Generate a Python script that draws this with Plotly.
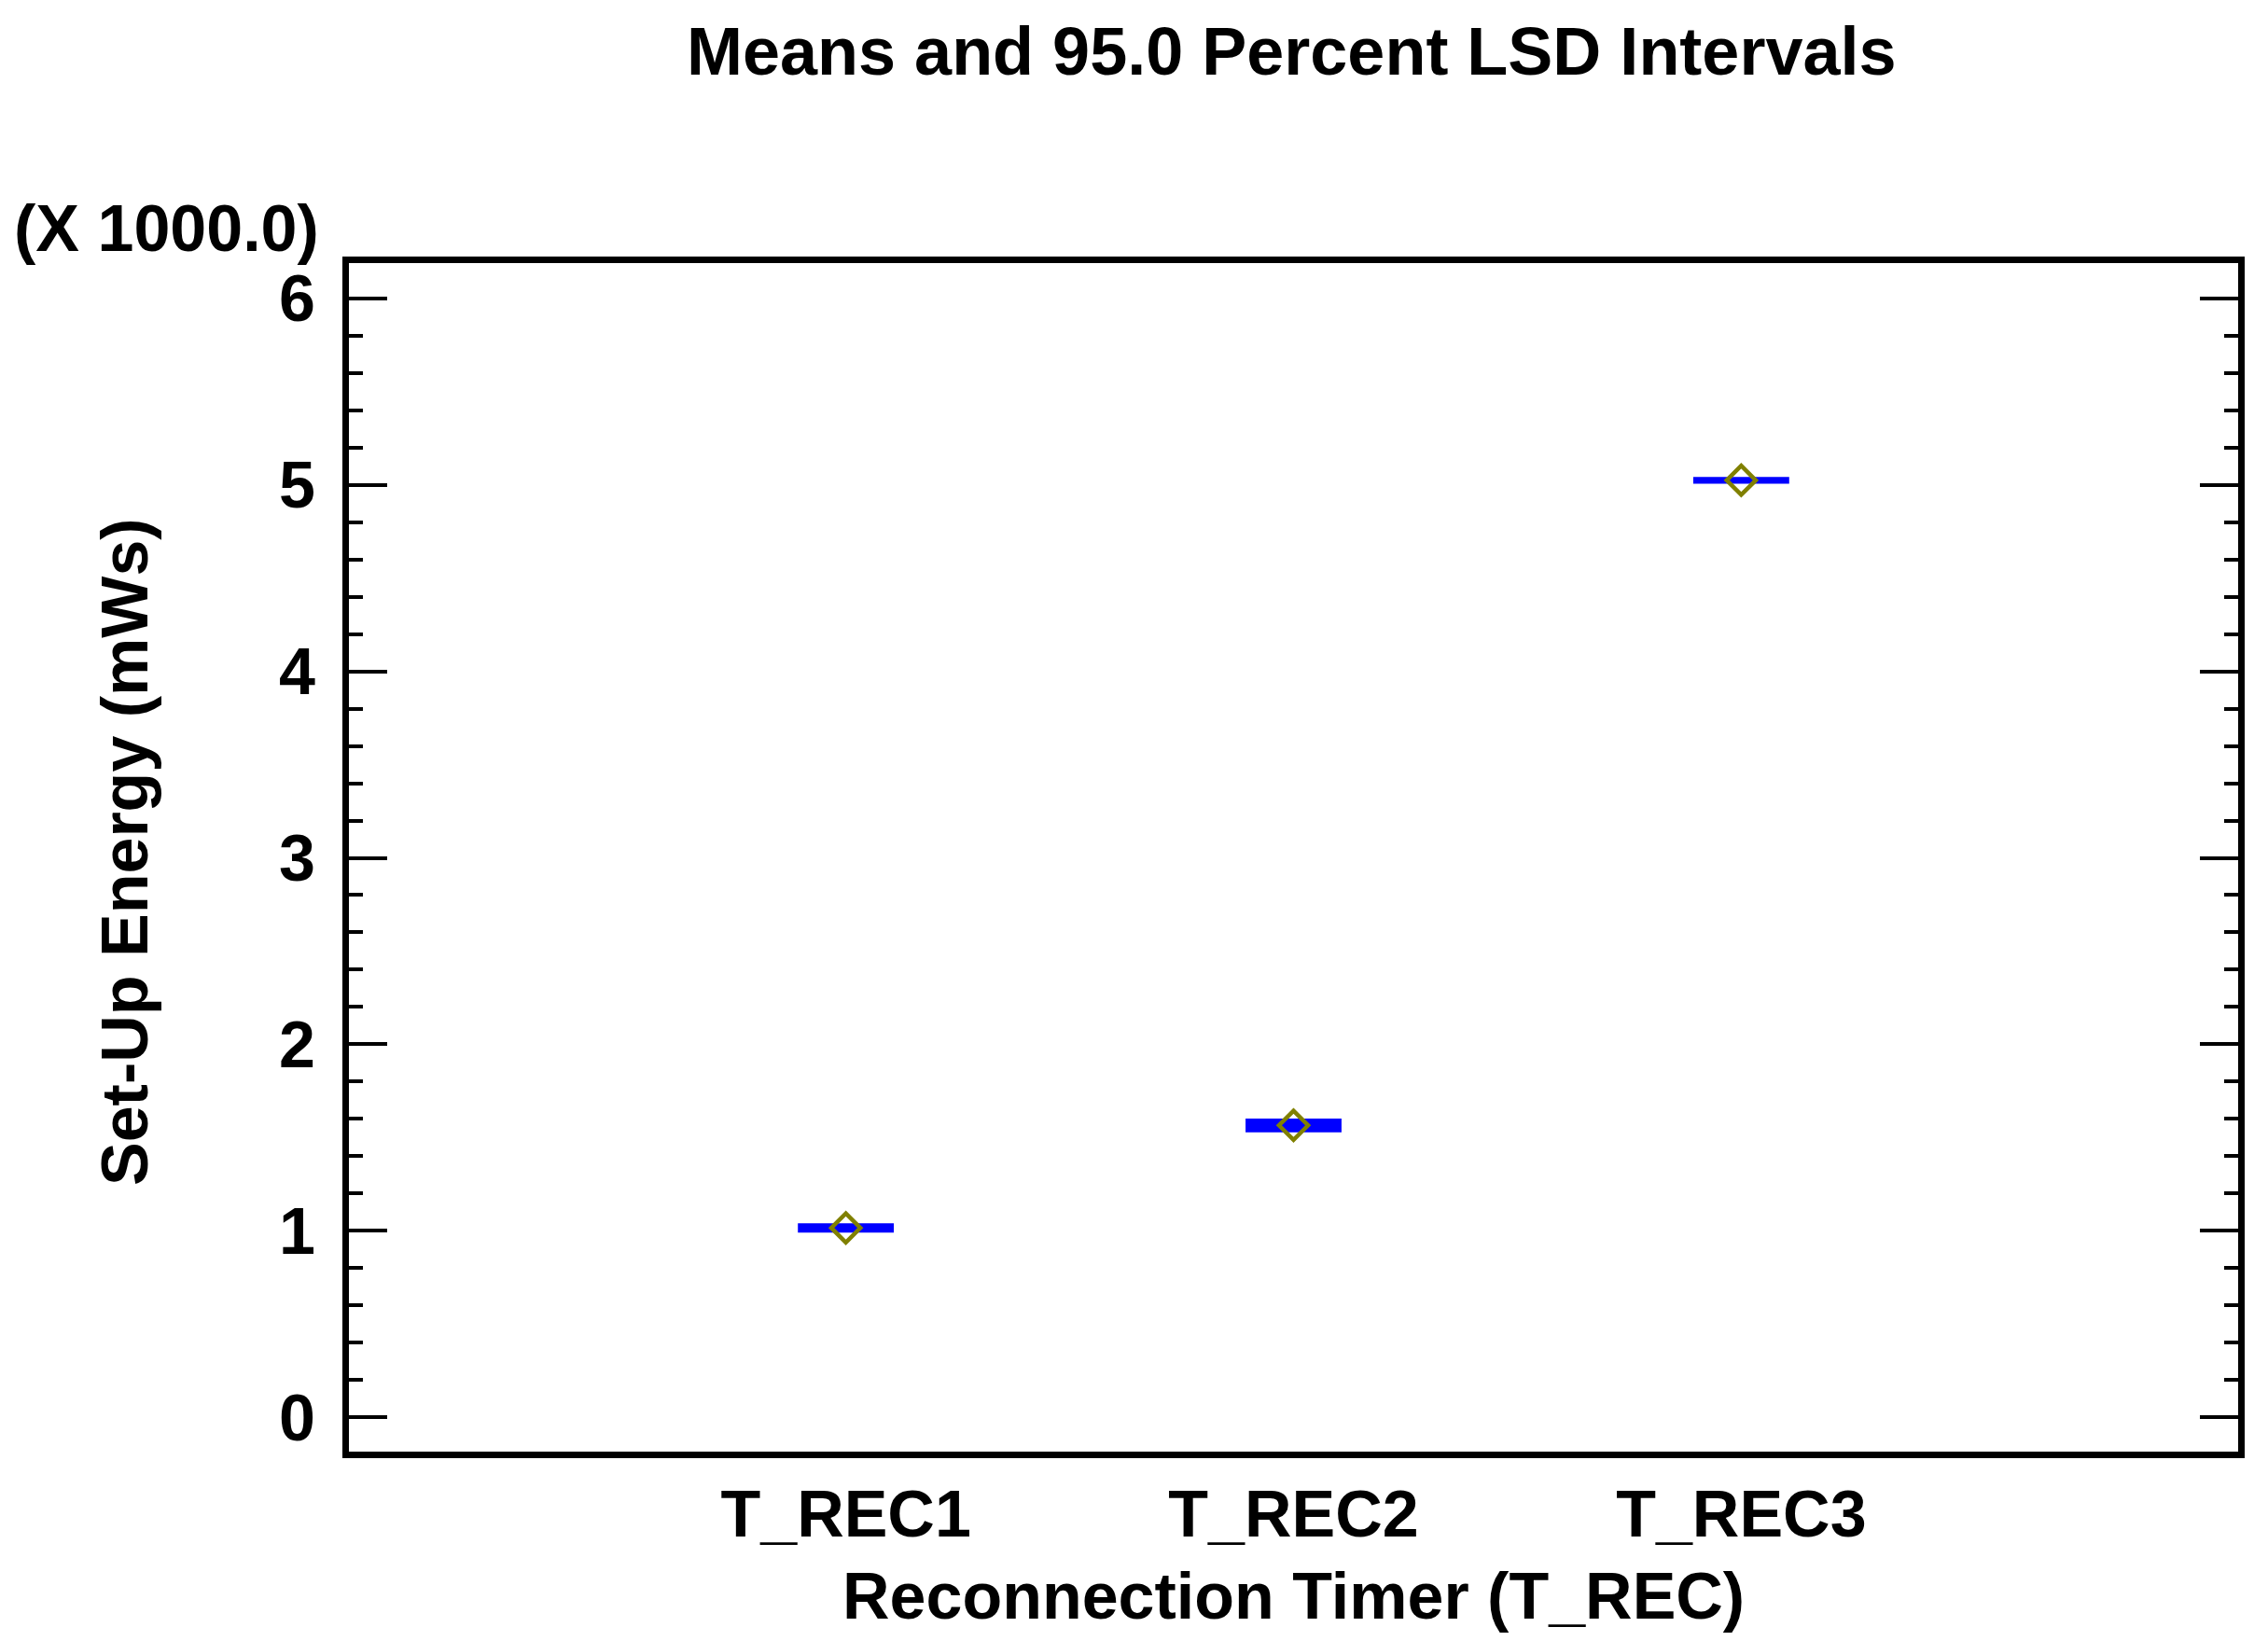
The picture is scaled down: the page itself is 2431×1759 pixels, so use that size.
import plotly.graph_objects as go

categories = ["T_REC1", "T_REC2", "T_REC3"]
cat_pos = [1, 2, 3]
means = [1015, 1565, 5025]
lsd_half = [15, 27, 8]
y_tickvals = [0, 1000, 2000, 3000, 4000, 5000, 6000]
y_ticktext = ["0", "1", "2", "3", "4", "5", "6"]

W, H = 2431, 1759
L, R, T, B = 366, 40, 274, 211
FONT = "Liberation Sans, Arial, sans-serif"

lower = [m - h for m, h in zip(means, lsd_half)]
span = [2 * h for h in lsd_half]

fig = go.Figure()
# LSD intervals (so narrow that the caps merge into one bar)
fig.add_trace(go.Bar(
    x=cat_pos, y=span, base=lower, width=0.206,
    marker=dict(color="#0000FF", line=dict(color="#0000FF", width=4)),
    showlegend=False, hoverinfo="skip",
))
# Means
fig.add_trace(go.Scatter(
    x=cat_pos, y=means, mode="markers",
    marker=dict(symbol="diamond-open", size=24, color="#808000",
                line=dict(width=4.5, color="#808000")),
    showlegend=False, hoverinfo="skip",
))

fig.update_layout(
    width=W, height=H,
    margin=dict(l=L, r=R, t=T, b=B, autoexpand=False),
    paper_bgcolor="white", plot_bgcolor="white",
    font=dict(family=FONT, size=70, color="black", weight="bold"),
    showlegend=False, barmode="overlay",
    xaxis=dict(
        range=[-0.11, 4.11], tickvals=cat_pos, ticktext=categories,
        showgrid=False, zeroline=False, showline=True, linewidth=7,
        linecolor="black", mirror=True, ticks="",
        tickfont=dict(family=FONT, size=70, color="black", weight="bold"),
        automargin=False,
    ),
    yaxis=dict(
        range=[-185, 6190], tickvals=y_tickvals, ticktext=y_ticktext,
        showgrid=False, zeroline=False, showline=True, linewidth=7,
        linecolor="black", mirror="allticks", ticks="inside",
        ticklen=41, tickwidth=4, tickcolor="black", ticklabelstandoff=15,
        minor=dict(dtick=200, ticks="inside", ticklen=15, tickwidth=4,
                   tickcolor="black", showgrid=False),
        tickfont=dict(family=FONT, size=70, color="black", weight="bold"),
        automargin=False,
    ),
    annotations=[
        dict(text="Means and 95.0 Percent LSD Intervals", xref="paper", yref="paper",
             x=0.5, y=1, xanchor="center", yanchor="middle", xshift=-2,
             yshift=T - 47, showarrow=False,
             font=dict(family=FONT, size=72, color="black", weight="bold")),
        dict(text="(X 1000.0)", xref="paper", yref="paper",
             x=0, y=1, xanchor="right", yanchor="middle", xshift=-30,
             yshift=T - 237, showarrow=False,
             font=dict(family=FONT, size=70, color="black", weight="bold")),
        dict(text="Reconnection Timer (T_REC)", xref="paper", yref="paper",
             x=0.5, y=0, xanchor="center", yanchor="middle", xshift=0,
             yshift=-(1703 - (H - B)), showarrow=False,
             font=dict(family=FONT, size=70, color="black", weight="bold")),
        dict(text="Set-Up Energy (mWs)", xref="paper", yref="paper",
             x=0, y=0.5, xanchor="center", yanchor="middle", xshift=126 - L,
             yshift=6, textangle=-90, showarrow=False,
             font=dict(family=FONT, size=70, color="black", weight="bold")),
    ],
)

fig.write_html("out.html")
